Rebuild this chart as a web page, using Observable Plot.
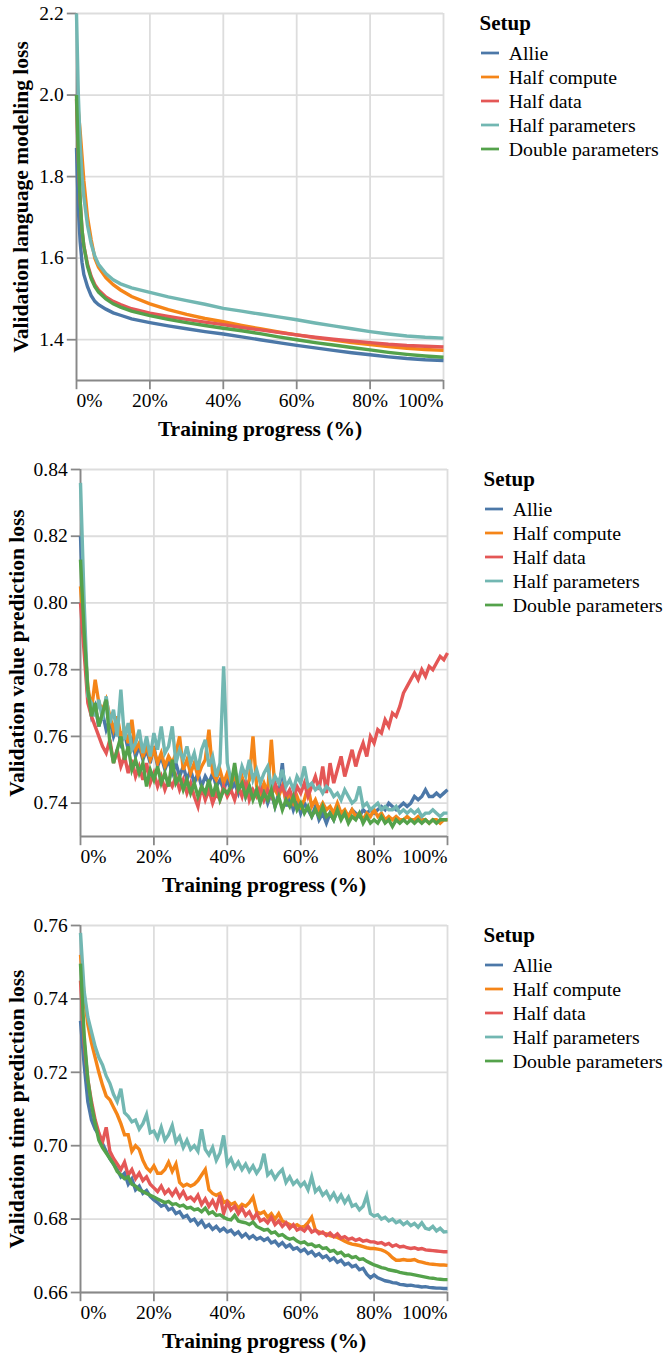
<!DOCTYPE html>
<html><head><meta charset="utf-8">
<script src="https://cdn.jsdelivr.net/npm/d3@7"></script>
<script src="https://cdn.jsdelivr.net/npm/@observablehq/plot@0.6"></script>
<style>
body{margin:0;background:#fff;overflow:hidden;font-family:"Liberation Serif",serif;color:#000;}
.panel{position:relative;width:670px;height:456px;}
.legend{position:absolute;top:0;}
.ltitle{position:absolute;left:0;top:11.4px;font-weight:bold;font-size:21px;line-height:24px;white-space:nowrap;}
.item{position:absolute;left:1px;height:24px;line-height:24px;font-size:19.8px;white-space:nowrap;display:flex;align-items:center;}
.item svg{margin-right:10.3px;display:block;}
</style></head><body><div id="root"></div>
<script>
const setups = ["Allie", "Half compute", "Half data", "Half parameters", "Double parameters"];
const colors = ["#4c78a8", "#f58518", "#e45756", "#72b7b2", "#54a24b"];
const xTitle = "Training progress (%)";
const xTicks = [0, 0.2, 0.4, 0.6, 0.8, 1];
const legendTitle = "Setup";

// ---------- Panel 1: language modeling loss ----------
const lmProgress = [0, 0.5, 1, 1.5, 2, 3, 4, 5, 6, 8, 10, 12, 15, 20, 25, 30, 35, 40, 45, 50, 55, 60, 65, 70, 75, 80, 85, 90, 95, 100];
const lmAllie = [1.87, 1.72, 1.64, 1.59, 1.56, 1.53, 1.508, 1.494, 1.486, 1.475, 1.466, 1.460, 1.451, 1.442, 1.434, 1.427, 1.420, 1.414, 1.407, 1.400, 1.393, 1.386, 1.380, 1.374, 1.368, 1.363, 1.358, 1.354, 1.351, 1.349];
const lmHalfCompute = [2.0, 1.96, 1.91, 1.85, 1.79, 1.70, 1.645, 1.60, 1.578, 1.552, 1.535, 1.522, 1.506, 1.488, 1.474, 1.462, 1.452, 1.444, 1.435, 1.427, 1.419, 1.412, 1.405, 1.399, 1.393, 1.388, 1.383, 1.379, 1.376, 1.374];
const lmHalfData = [1.99, 1.84, 1.74, 1.67, 1.63, 1.585, 1.555, 1.535, 1.522, 1.505, 1.494, 1.486, 1.476, 1.465, 1.457, 1.450, 1.443, 1.437, 1.430, 1.424, 1.418, 1.412, 1.406, 1.401, 1.397, 1.393, 1.389, 1.386, 1.384, 1.382];
const lmHalfParams = [2.2, 2.0, 1.88, 1.80, 1.75, 1.68, 1.635, 1.605, 1.585, 1.562, 1.547, 1.537, 1.527, 1.516, 1.505, 1.496, 1.487, 1.477, 1.470, 1.463, 1.456, 1.449, 1.441, 1.434, 1.427, 1.420, 1.414, 1.409, 1.406, 1.404];
const lmDoubleParams = [2.0, 1.85, 1.74, 1.67, 1.63, 1.58, 1.55, 1.53, 1.517, 1.500, 1.488, 1.480, 1.470, 1.459, 1.450, 1.442, 1.435, 1.428, 1.422, 1.415, 1.407, 1.400, 1.393, 1.387, 1.381, 1.375, 1.369, 1.364, 1.360, 1.357];
const lmTicks = [1.4, 1.6, 1.8, 2.0, 2.2];

// ---------- Panels 2 and 3 share a 1% progress grid ----------
const progress = [0,1,2,3,4,5,6,7,8,9,10,11,12,13,14,15,16,17,18,19,20,21,22,23,24,25,26,27,28,29,30,31,32,33,34,35,36,37,38,39,40,41,42,43,44,45,46,47,48,49,50,51,52,53,54,55,56,57,58,59,60,61,62,63,64,65,66,67,68,69,70,71,72,73,74,75,76,77,78,79,80,81,82,83,84,85,86,87,88,89,90,91,92,93,94,95,96,97,98,99,100];

// Panel 2: value prediction loss
const vpAllie = [0.820,0.790,0.772,0.766,0.769,0.763,0.767,0.762,0.765,0.760,0.763,0.758,0.761,0.756,0.759,0.754,0.757,0.753,0.756,0.752,0.757,0.751,0.754,0.750,0.753,0.749,0.752,0.748,0.751,0.747,0.750,0.746,0.749,0.745,0.748,0.746,0.749,0.745,0.747,0.744,0.747,0.744,0.746,0.743,0.747,0.742,0.745,0.742,0.744,0.741,0.744,0.740,0.743,0.739,0.743,0.752,0.739,0.742,0.738,0.741,0.737,0.740,0.738,0.736,0.739,0.735,0.737,0.734,0.737,0.735,0.738,0.736,0.737,0.736,0.738,0.737,0.736,0.738,0.737,0.738,0.737,0.738,0.739,0.738,0.740,0.739,0.738,0.739,0.740,0.739,0.740,0.742,0.741,0.742,0.744,0.742,0.742,0.743,0.742,0.743,0.744];
const vpHalfCompute = [0.805,0.790,0.775,0.768,0.777,0.770,0.768,0.771,0.766,0.762,0.766,0.760,0.762,0.758,0.765,0.756,0.758,0.754,0.757,0.753,0.756,0.752,0.755,0.751,0.754,0.752,0.755,0.760,0.750,0.753,0.749,0.752,0.748,0.751,0.753,0.762,0.749,0.747,0.750,0.746,0.749,0.746,0.748,0.745,0.748,0.744,0.747,0.760,0.745,0.743,0.746,0.743,0.759,0.744,0.742,0.745,0.741,0.743,0.740,0.742,0.739,0.741,0.745,0.739,0.741,0.738,0.740,0.738,0.739,0.737,0.740,0.737,0.738,0.736,0.738,0.736,0.737,0.735,0.737,0.736,0.738,0.736,0.737,0.735,0.736,0.735,0.736,0.735,0.735,0.736,0.735,0.735,0.736,0.735,0.735,0.734,0.735,0.735,0.734,0.735,0.735];
const vpHalfData = [0.800,0.785,0.770,0.766,0.763,0.760,0.757,0.755,0.759,0.752,0.756,0.751,0.754,0.749,0.753,0.748,0.751,0.747,0.752,0.746,0.749,0.745,0.748,0.744,0.747,0.745,0.748,0.744,0.747,0.743,0.746,0.742,0.739,0.745,0.741,0.744,0.740,0.743,0.741,0.745,0.742,0.744,0.741,0.745,0.742,0.747,0.741,0.744,0.742,0.745,0.741,0.744,0.742,0.746,0.743,0.745,0.742,0.744,0.741,0.745,0.743,0.746,0.742,0.745,0.748,0.744,0.751,0.743,0.752,0.746,0.750,0.754,0.748,0.752,0.756,0.751,0.755,0.758,0.754,0.760,0.758,0.762,0.761,0.765,0.763,0.767,0.766,0.769,0.773,0.775,0.777,0.779,0.777,0.780,0.778,0.781,0.780,0.782,0.784,0.783,0.785];
const vpHalfParams = [0.836,0.800,0.772,0.770,0.766,0.771,0.765,0.772,0.764,0.768,0.760,0.774,0.759,0.764,0.756,0.758,0.762,0.755,0.760,0.754,0.761,0.756,0.763,0.755,0.757,0.763,0.752,0.756,0.753,0.757,0.752,0.755,0.750,0.756,0.759,0.751,0.754,0.748,0.752,0.781,0.752,0.747,0.750,0.746,0.751,0.748,0.753,0.747,0.750,0.746,0.749,0.751,0.745,0.748,0.746,0.750,0.745,0.747,0.744,0.748,0.746,0.751,0.745,0.746,0.744,0.745,0.743,0.745,0.744,0.742,0.743,0.741,0.744,0.742,0.740,0.741,0.745,0.739,0.740,0.738,0.739,0.740,0.738,0.739,0.738,0.738,0.739,0.737,0.738,0.737,0.738,0.737,0.738,0.736,0.737,0.737,0.738,0.737,0.736,0.737,0.737];
const vpDoubleParams = [0.813,0.791,0.774,0.766,0.770,0.763,0.767,0.771,0.758,0.752,0.756,0.760,0.753,0.757,0.750,0.753,0.749,0.752,0.745,0.750,0.747,0.751,0.746,0.749,0.745,0.753,0.746,0.748,0.744,0.747,0.743,0.746,0.742,0.745,0.743,0.747,0.742,0.746,0.741,0.744,0.743,0.745,0.752,0.744,0.746,0.742,0.745,0.741,0.744,0.740,0.743,0.741,0.744,0.739,0.742,0.738,0.741,0.739,0.742,0.738,0.740,0.737,0.739,0.736,0.738,0.736,0.739,0.736,0.737,0.735,0.738,0.735,0.737,0.734,0.736,0.735,0.737,0.734,0.736,0.734,0.735,0.734,0.736,0.734,0.735,0.733,0.735,0.734,0.735,0.734,0.735,0.734,0.735,0.734,0.735,0.734,0.735,0.734,0.735,0.735,0.735];
const vpTicks = [0.74, 0.76, 0.78, 0.80, 0.82, 0.84];

// Panel 3: time prediction loss
const tpAllie = [0.734,0.722,0.712,0.707,0.7045,0.7030,0.7005,0.6985,0.6965,0.6950,0.6935,0.6915,0.6925,0.6895,0.6910,0.6880,0.6890,0.6870,0.6878,0.6862,0.6852,0.6845,0.6835,0.6840,0.6825,0.6830,0.6815,0.6820,0.6805,0.6810,0.6795,0.6800,0.6785,0.6795,0.6778,0.6785,0.6772,0.6780,0.6768,0.6775,0.6765,0.6770,0.6758,0.6765,0.6752,0.6760,0.6748,0.6755,0.6745,0.6750,0.6742,0.6748,0.6735,0.6740,0.6728,0.6736,0.6724,0.6730,0.6718,0.6722,0.6712,0.6718,0.6706,0.6712,0.6700,0.6706,0.6695,0.6700,0.6688,0.6694,0.6682,0.6688,0.6676,0.6680,0.6670,0.6674,0.6662,0.6666,0.6650,0.6640,0.6648,0.6640,0.6636,0.6632,0.6630,0.6627,0.6626,0.6622,0.6621,0.6619,0.6620,0.6618,0.6617,0.6615,0.6616,0.6614,0.6613,0.6612,0.6612,0.6611,0.6611];
const tpHalfCompute = [0.752,0.741,0.733,0.728,0.724,0.720,0.7165,0.7135,0.7125,0.7105,0.7085,0.7060,0.7030,0.7030,0.6985,0.7000,0.6990,0.6960,0.6940,0.6930,0.6945,0.6925,0.6925,0.6935,0.6955,0.6930,0.6950,0.6900,0.6890,0.6895,0.6890,0.6895,0.6905,0.6920,0.6935,0.6880,0.6870,0.6865,0.6870,0.6845,0.6850,0.6840,0.6845,0.6830,0.6840,0.6835,0.6845,0.6860,0.6820,0.6815,0.6820,0.6805,0.6815,0.6800,0.6815,0.6795,0.6790,0.6785,0.6780,0.6785,0.6778,0.6780,0.6790,0.6805,0.6770,0.6765,0.6762,0.6760,0.6755,0.6752,0.6750,0.6745,0.6740,0.6735,0.6732,0.6730,0.6728,0.6725,0.6722,0.6720,0.6720,0.6718,0.6716,0.6712,0.6705,0.6695,0.6688,0.6688,0.6690,0.6688,0.6688,0.6690,0.6685,0.6683,0.6680,0.6678,0.6677,0.6676,0.6675,0.6675,0.6674];
const tpHalfData = [0.745,0.728,0.718,0.712,0.707,0.7035,0.7010,0.7050,0.6985,0.6965,0.6950,0.6935,0.6955,0.6920,0.6935,0.6910,0.6925,0.6905,0.6915,0.6895,0.6885,0.6875,0.6890,0.6870,0.6880,0.6865,0.6880,0.6860,0.6875,0.6855,0.6860,0.6850,0.6865,0.6840,0.6855,0.6835,0.6850,0.6830,0.6865,0.6815,0.6845,0.6825,0.6835,0.6815,0.6830,0.6810,0.6820,0.6800,0.6815,0.6795,0.6800,0.6790,0.6805,0.6785,0.6795,0.6780,0.6790,0.6775,0.6785,0.6770,0.6775,0.6768,0.6780,0.6765,0.6770,0.6760,0.6765,0.6755,0.6762,0.6752,0.6760,0.6748,0.6752,0.6745,0.6748,0.6742,0.6746,0.6740,0.6742,0.6738,0.6738,0.6734,0.6736,0.6730,0.6734,0.6726,0.6730,0.6724,0.6726,0.6722,0.6720,0.6722,0.6718,0.6720,0.6716,0.6715,0.6714,0.6713,0.6712,0.6711,0.6711];
const tpHalfParams = [0.758,0.742,0.735,0.731,0.727,0.724,0.722,0.719,0.717,0.714,0.712,0.7155,0.709,0.708,0.7065,0.7070,0.7045,0.7060,0.7085,0.7035,0.7040,0.7020,0.7050,0.7015,0.7030,0.7055,0.7010,0.7025,0.6995,0.7015,0.6990,0.7000,0.6985,0.7045,0.6990,0.6975,0.6995,0.6960,0.6980,0.7028,0.6950,0.6965,0.6940,0.6955,0.6935,0.6950,0.6930,0.6945,0.6925,0.6940,0.6978,0.6920,0.6930,0.6910,0.6925,0.6935,0.6900,0.6915,0.6895,0.6905,0.6890,0.6900,0.6880,0.6915,0.6875,0.6885,0.6865,0.6875,0.6855,0.6870,0.6850,0.6865,0.6845,0.6860,0.6835,0.6840,0.6825,0.6835,0.6864,0.6815,0.6808,0.6812,0.6800,0.6805,0.6795,0.6800,0.6790,0.6795,0.6785,0.6792,0.6782,0.6788,0.6778,0.6790,0.6775,0.6772,0.6780,0.6768,0.6775,0.6765,0.6766];
const tpDoubleParams = [0.7496,0.730,0.718,0.711,0.706,0.7015,0.6995,0.6980,0.6965,0.6950,0.6930,0.6920,0.6910,0.6915,0.6895,0.6890,0.6880,0.6875,0.6870,0.6865,0.6860,0.6855,0.6850,0.6845,0.6848,0.6840,0.6842,0.6835,0.6838,0.6830,0.6832,0.6825,0.6828,0.6820,0.6830,0.6815,0.6820,0.6810,0.6812,0.6805,0.6800,0.6798,0.6810,0.6795,0.6792,0.6790,0.6785,0.6792,0.6780,0.6775,0.6770,0.6772,0.6762,0.6765,0.6755,0.6758,0.6750,0.6745,0.6748,0.6740,0.6735,0.6738,0.6730,0.6732,0.6725,0.6728,0.6720,0.6722,0.6712,0.6715,0.6706,0.6710,0.6700,0.6702,0.6695,0.6698,0.6690,0.6692,0.6685,0.6680,0.6675,0.6672,0.6668,0.6666,0.6662,0.6660,0.6658,0.6655,0.6653,0.6651,0.6650,0.6648,0.6646,0.6644,0.6642,0.6640,0.6639,0.6637,0.6636,0.6635,0.6635];
const tpTicks = [0.66, 0.68, 0.70, 0.72, 0.74, 0.76];

const panels = [
  {ytitle: "Validation language modeling loss", progress: lmProgress,
   series: [lmAllie, lmHalfCompute, lmHalfData, lmHalfParams, lmDoubleParams],
   ydomain: [1.3, 2.2], yticks: lmTicks, fmt: ".1f", ml: 76, ytdx: -55},
  {ytitle: "Validation value prediction loss", progress: progress,
   series: [vpAllie, vpHalfCompute, vpHalfData, vpHalfParams, vpDoubleParams],
   ydomain: [0.73, 0.84], yticks: vpTicks, fmt: ".2f", ml: 80, ytdx: -63},
  {ytitle: "Validation time prediction loss", progress: progress,
   series: [tpAllie, tpHalfCompute, tpHalfData, tpHalfParams, tpDoubleParams],
   ydomain: [0.66, 0.76], yticks: tpTicks, fmt: ".2f", ml: 80, ytdx: -63}
];

const root = document.getElementById("root");
const PW = 367, MR = 18, H = 456, MT = 13, MB = 76;
const pct = d3.format(".0%");
const axisStyle = {tickSize: 9.2, tickPadding: 3.6, fontSize: 19.5, stroke: "#888", strokeWidth: 1.8, label: null};

for (const cfg of panels) {
  const data = setups.flatMap((s, i) => cfg.series[i].map((v, j) => ({setup: s, x: cfg.progress[j] / 100, y: v})));
  const W = cfg.ml + PW + MR;
  const svg = Plot.plot({
    width: W, height: H,
    marginLeft: cfg.ml, marginRight: MR, marginTop: MT, marginBottom: MB,
    style: {fontFamily: "'Liberation Serif', serif", background: "white", overflow: "visible", color: "#000"},
    x: {domain: [0, 1]},
    y: {domain: cfg.ydomain},
    color: {domain: setups, range: colors},
    marks: [
      Plot.gridX({ticks: xTicks, stroke: "#ddd", strokeOpacity: 1, strokeWidth: 1.8}),
      Plot.gridY({ticks: cfg.yticks, stroke: "#ddd", strokeOpacity: 1, strokeWidth: 1.8}),
      Plot.axisY({...axisStyle, ticks: cfg.yticks, tickFormat: d3.format(cfg.fmt)}),
      Plot.axisX({...axisStyle, ticks: [0.2, 0.4, 0.6, 0.8], tickFormat: pct}),
      Plot.axisX({...axisStyle, ticks: [0], tickFormat: pct, textAnchor: "start", dx: 0}),
      Plot.axisX({...axisStyle, ticks: [1], tickFormat: pct, textAnchor: "end", dx: 0}),
      Plot.ruleX([0], {stroke: "#888", strokeWidth: 1.8}),
      Plot.ruleY([cfg.ydomain[0]], {stroke: "#888", strokeWidth: 1.8}),
      Plot.line(data, {x: "x", y: "y", z: "setup", stroke: "setup", strokeWidth: 3.4, strokeLinejoin: "miter", strokeMiterlimit: 4, strokeLinecap: "butt"}),
      Plot.text([xTitle], {text: d => d, frameAnchor: "bottom", dy: 40.3, lineAnchor: "top", fontWeight: "bold", fontSize: 21.5, fill: "#000"}),
      Plot.text([cfg.ytitle], {text: d => d, frameAnchor: "left", dx: cfg.ytdx, rotate: -90, textAnchor: "middle", fontWeight: "bold", fontSize: 21.5, fill: "#000"})
    ]
  });
  const panel = document.createElement("div");
  panel.className = "panel";
  svg.style.position = "absolute";
  svg.style.left = "0px";
  svg.style.top = "0px";
  panel.appendChild(svg);

  const legend = document.createElement("div");
  legend.className = "legend";
  legend.style.left = (cfg.ml + PW + 36.5) + "px";
  const lt = document.createElement("div");
  lt.className = "ltitle";
  lt.textContent = legendTitle;
  legend.appendChild(lt);
  setups.forEach((s, i) => {
    const it = document.createElement("div");
    it.className = "item";
    it.style.top = (40.5 + 24 * i) + "px";
    const ns = "http://www.w3.org/2000/svg";
    const sw = document.createElementNS(ns, "svg");
    sw.setAttribute("width", "18");
    sw.setAttribute("height", "24");
    const ln = document.createElementNS(ns, "line");
    ln.setAttribute("x1", "0"); ln.setAttribute("x2", "18");
    ln.setAttribute("y1", "12"); ln.setAttribute("y2", "12");
    ln.setAttribute("stroke", colors[i]);
    ln.setAttribute("stroke-width", "2.75");
    sw.appendChild(ln);
    const sp = document.createElement("span");
    sp.textContent = s;
    it.appendChild(sw);
    it.appendChild(sp);
    legend.appendChild(it);
  });
  panel.appendChild(legend);
  root.appendChild(panel);
}
</script>
</body></html>
